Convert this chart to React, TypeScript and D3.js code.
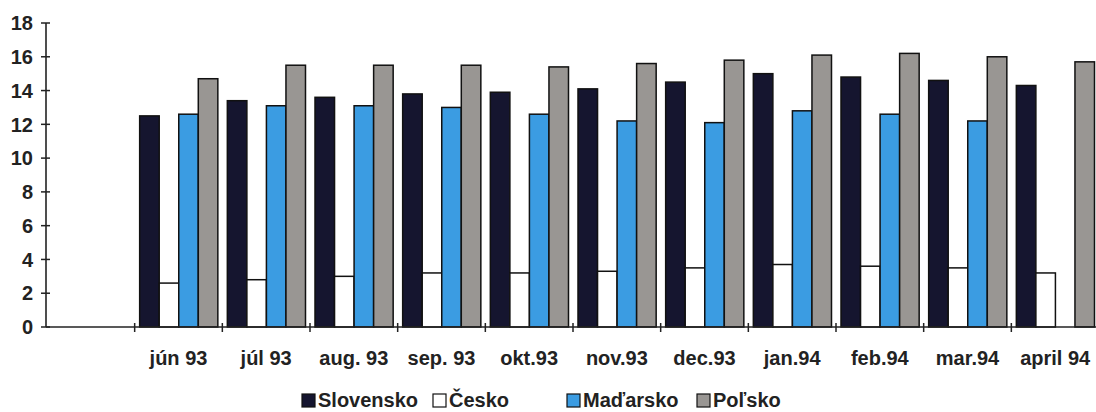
import React from "react";
import * as d3 from "d3";

const months = ["", "jún 93", "júl 93", "aug. 93", "sep. 93", "okt.93", "nov.93", "dec.93", "jan.94", "feb.94", "mar.94", "april 94"];
const seriesNames = ["Slovensko", "Česko", "Maďarsko", "Poľsko"];
const slovensko = [null, 12.5, 13.4, 13.6, 13.8, 13.9, 14.1, 14.5, 15.0, 14.8, 14.6, 14.3];
const cesko = [null, 2.6, 2.8, 3.0, 3.2, 3.2, 3.3, 3.5, 3.7, 3.6, 3.5, 3.2];
const madarsko = [null, 12.6, 13.1, 13.1, 13.0, 12.6, 12.2, 12.1, 12.8, 12.6, 12.2, null];
const polsko = [null, 14.7, 15.5, 15.5, 15.5, 15.4, 15.6, 15.8, 16.1, 16.2, 16.0, 15.7];
const yTicks = [0, 2, 4, 6, 8, 10, 12, 14, 16, 18];

const colors = ["#15152f", "#ffffff", "#3b9ce2", "#999693"];
const values = [slovensko, cesko, madarsko, polsko];

const W = 1096;
const H = 412;
const axisX = 46;
const font = "'Liberation Sans', Arial, sans-serif";

export default function App() {
  const x = d3.scaleBand<string>().domain(months).range([47, 1099]).padding(0);
  const bw = x.bandwidth();
  const x1 = d3.scaleBand<string>().domain(seriesNames).range([5, bw - 4.5]).padding(0);
  const y = d3.scaleLinear().domain([0, 18]).range([327, 23]);

  // legend swatch x positions
  const legend = [
    { name: "Slovensko", sq: 302 },
    { name: "Česko", sq: 433 },
    { name: "Maďarsko", sq: 567 },
    { name: "Poľsko", sq: 697 },
  ];

  return (
    <div style={{ position: "fixed", left: 0, top: 0 }}>
      <svg width={W} height={H} style={{ display: "block", background: "#fff" }} fontFamily={font}>
        {/* bars */}
        {months.map((m, i) => (
          <g key={i} transform={`translate(${x(m)},0)`}>
            {seriesNames.map((s, k) => {
              const v = values[k][i];
              if (v == null) return null;
              return (
                <rect
                  key={s}
                  x={x1(s)}
                  y={y(v)}
                  width={x1.bandwidth()}
                  height={y(0) - y(v)}
                  fill={colors[k]}
                  stroke="#111"
                  strokeWidth={1.5}
                />
              );
            })}
          </g>
        ))}

        {/* y axis */}
        <line x1={axisX} x2={axisX} y1={y(18)} y2={y(0)} stroke="#222" strokeWidth={1.6} />
        {yTicks.map((t) => (
          <g key={t} transform={`translate(0,${y(t)})`}>
            <line x1={axisX - 5} x2={axisX + 4} stroke="#222" strokeWidth={1.5} />
            <text x={33} dy="0.36em" textAnchor="end" fontSize={20} fontWeight="bold" fill="#222">
              {t}
            </text>
          </g>
        ))}

        {/* x axis */}
        <line x1={axisX} x2={W} y1={y(0)} y2={y(0)} stroke="#222" strokeWidth={1.6} />
        {months.slice(1).map((m) => (
          <line key={m} x1={x(m)} x2={x(m)} y1={y(0) - 4} y2={y(0) + 5} stroke="#222" strokeWidth={1.5} />
        ))}
        {months.map((m) => (
          <text
            key={m}
            x={(x(m) ?? 0) + bw / 2}
            y={365}
            textAnchor="middle"
            fontSize={20}
            fontWeight="bold"
            fill="#222"
          >
            {m}
          </text>
        ))}

        {/* legend */}
        {legend.map((l, k) => (
          <g key={l.name}>
            <rect x={l.sq} y={394} width={13} height={13} fill={colors[k]} stroke="#111" strokeWidth={1.2} />
            <text x={l.sq + 16} y={407} fontSize={20} fontWeight="bold" fill="#222">
              {l.name}
            </text>
          </g>
        ))}
      </svg>
    </div>
  );
}
